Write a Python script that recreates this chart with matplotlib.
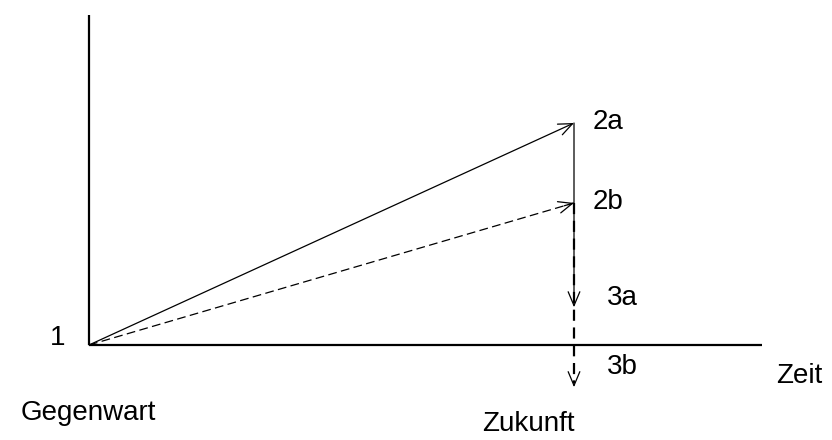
import matplotlib
matplotlib.use("Agg")
import matplotlib.pyplot as plt

plt.rcParams['font.family'] = ['Liberation Sans', 'DejaVu Sans']

# Conceptual data: time (0 = Gegenwart, 1 = Zukunft) and relative level
t_now = 0.0
t_future = 1.0
level_now = 0.0
levels = {"2a": 1.0, "2b": 0.64, "3a": 0.17, "3b": -0.19}
start_label = "1"
x_labels = ["Gegenwart", "Zukunft"]
axis_label = "Zeit"

W, H = 832, 440
fig = plt.figure(figsize=(W / 100, H / 100), dpi=100)
ax = fig.add_axes([0, 0, 1, 1])
ax.axis('off')

ox, oy = 89, 345          # origin in pixels
sx, sy = 485, 222         # pixels per unit
ax.set_xlim(-ox / sx, (W - ox) / sx)
ax.set_ylim(-(H - oy) / sy, oy / sy)


def px(x, y):
    return ((x - ox) / sx, (oy - y) / sy)


x_top = px(0, 15)[1]
x_right = px(762, 0)[0]
ax.plot([t_now, t_now], [level_now, x_top], color='k', lw=1.6, solid_capstyle='butt')
ax.plot([t_now, x_right], [level_now, level_now], color='k', lw=1.6, solid_capstyle='butt')

ap = dict(arrowstyle='->,head_length=1.0,head_width=0.42', color='k', lw=0.9,
          shrinkA=0, shrinkB=0, mutation_scale=10)

ax.annotate('', xy=(t_future, levels["2a"]), xytext=(t_now, level_now), arrowprops=ap)

ax.plot([t_now, t_future], [level_now, levels["2b"]], color='k', lw=0.9, dashes=(7, 3.5))
ax.annotate('', xy=(t_future, levels["2b"]),
            xytext=(t_future - 0.02, levels["2b"] - 0.02 * levels["2b"]), arrowprops=ap)

ax.annotate('', xy=(t_future, levels["3a"]), xytext=(t_future, levels["2a"]), arrowprops=ap)

ax.plot([t_future, t_future], [levels["2b"], levels["3b"] + 0.02], color='k', lw=1.6,
        dashes=(5, 3))
ax.annotate('', xy=(t_future, levels["3b"]), xytext=(t_future, levels["3b"] + 0.03), arrowprops=ap)

fs = 20
ax.text(*px(593, 122), "2a", fontsize=fs, va='center', ha='left')
ax.text(*px(593, 202), "2b", fontsize=fs, va='center', ha='left')
ax.text(*px(607, 298), "3a", fontsize=fs, va='center', ha='left')
ax.text(*px(607, 367), "3b", fontsize=fs, va='center', ha='left')
ax.text(*px(58, 338), start_label, fontsize=fs, va='center', ha='center')
ax.text(*px(21, 413), x_labels[0], fontsize=fs, va='center', ha='left')
ax.text(*px(482, 424), x_labels[1], fontsize=fs, va='center', ha='left')
ax.text(*px(776, 376), axis_label, fontsize=fs, va='center', ha='left')

fig.savefig("out.png", dpi=100)
